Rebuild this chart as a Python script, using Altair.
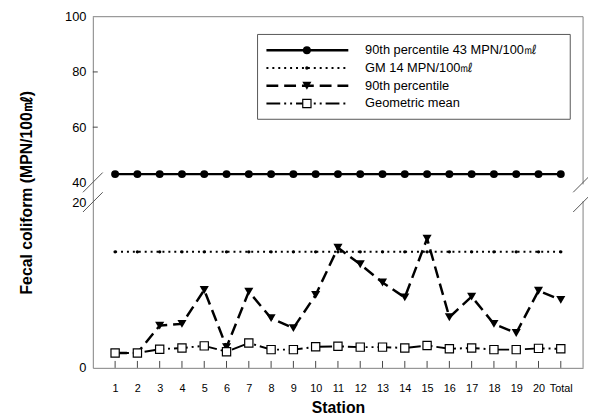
import altair as alt
import pandas as pd

# ---------------- data ----------------
stations = list(range(1, 22))
station_labels = [str(i) for i in range(1, 21)] + ["Total"]
p90_43 = [43] * 21
gm_14 = [14] * 21
p90 = [1.8, 1.8, 5.1, 5.3, 9.4, 2.5, 9.2, 6.0, 4.8, 8.8, 14.5, 12.5, 10.3, 8.5,
       15.6, 6.1, 8.6, 5.3, 4.2, 9.3, 8.2]
gm = [1.8, 1.8, 2.25, 2.4, 2.65, 1.95, 3.0, 2.2, 2.2, 2.55, 2.6, 2.5, 2.5, 2.4,
      2.7, 2.3, 2.4, 2.2, 2.2, 2.35, 2.3]
y_tick_values = [0, 20, 40, 60, 80, 100]
inner_y_ticks = [60, 80]
legend_labels = ["90th percentile 43 MPN/100㎖", "GM 14 MPN/100㎖",
                 "90th percentile", "Geometric mean"]

df = pd.DataFrame({"station": stations, "p90_43": p90_43, "gm_14": gm_14,
                   "p90": p90, "gm": gm})
ytick_df = pd.DataFrame({"v": inner_y_ticks})

W, H = 497, 356
FONT = "Liberation Sans, Arial, sans-serif"
AX = "#808080"

label_arr = "[" + ",".join("'%s'" % s for s in station_labels) + "]"

x_scale = alt.Scale(domain=[0, 22], nice=False, zero=False)
y_scale = alt.Scale(domain=[0, 20, 40, 100], range=[H, H - 168, H - 188, 0],
                    nice=False, zero=False)

x_axis = alt.Axis(values=stations, labelExpr=label_arr + "[datum.value - 1]",
                  tickSize=0, ticks=False, labelPadding=15, labelFontSize=11,
                  labelColor="black", labelFont=FONT, labelOverlap=False,
                  labelFlush=False, domainColor=AX, domainWidth=1, grid=False,
                  title="Station", titleFontSize=16, titleFontWeight="bold",
                  titleFont=FONT, titleColor="black", titleY=40,
                  titleBaseline="middle")
y_axis = alt.Axis(values=y_tick_values, tickSize=0, ticks=False, labelPadding=7,
                  labelFontSize=13, labelColor="black", labelFont=FONT,
                  labelOverlap=False, labelFlush=False, domainColor=AX,
                  domainWidth=1, grid=False,
                  title="Fecal coliform (MPN/100㎖)", titleFontSize=16,
                  titleFontWeight="bold", titleFont=FONT, titleColor="black",
                  titleX=-67, titleY=H / 2, titleAngle=270, titleAlign="center",
                  titleBaseline="middle")

X = alt.X("station:Q", scale=x_scale, axis=x_axis)


def Y(f):
    return alt.Y(f + ":Q", scale=y_scale, axis=y_axis)


base = alt.Chart(df)

one = pd.DataFrame({"a": [0]})


def deco():
    return alt.Chart(one)


layers = []

# frame: top and right borders (right one broken)
layers.append(deco().mark_rule(color=AX, strokeWidth=1).encode(
    x=alt.value(0), x2=alt.value(W), y=alt.value(0)))
layers.append(deco().mark_rule(color=AX, strokeWidth=1).encode(
    x=alt.value(W), y=alt.value(0), y2=alt.value(H - 188 + 2)))
layers.append(deco().mark_rule(color=AX, strokeWidth=1).encode(
    x=alt.value(W), y=alt.value(H - 168 - 1), y2=alt.value(H)))

# inner ticks
layers.append(base.mark_rule(color="#444", strokeWidth=1).encode(
    x=X, y=alt.value(H - 7), y2=alt.value(H)))
layers.append(alt.Chart(ytick_df).mark_rule(color="#444", strokeWidth=1).encode(
    y=alt.Y("v:Q", scale=y_scale, axis=y_axis), x=alt.value(0), x2=alt.value(5)))

# break marks
y40 = H - 188
y20 = H - 168
for cx in (0, W):
    for cy in (y40, y20):
        layers.append(deco().mark_rule(color="#555", strokeWidth=1).encode(
            x=alt.value(cx - 10), x2=alt.value(cx + 10),
            y=alt.value(cy + 10), y2=alt.value(cy - 10)))

# series lines
layers.append(base.mark_line(color="black", strokeWidth=2.5).encode(x=X, y=Y("p90_43")))
layers.append(base.mark_line(color="black", strokeWidth=2, strokeDash=[2, 4]).encode(
    x=X, y=Y("gm_14")))
layers.append(base.mark_line(color="black", strokeWidth=2.5, strokeDash=[12, 6]).encode(
    x=X, y=Y("p90")))
layers.append(base.mark_line(color="black", strokeWidth=2,
                             strokeDash=[14, 4, 2, 4, 2, 4]).encode(x=X, y=Y("gm")))

# markers
layers.append(base.mark_point(shape="circle", filled=True, color="black", size=65,
                              opacity=1).encode(x=X, y=Y("p90_43")))
layers.append(base.mark_point(shape="circle", filled=True, color="black", size=12,
                              opacity=1).encode(x=X, y=Y("gm_14")))
layers.append(base.mark_point(shape="triangle-down", filled=True, color="black",
                              size=85, opacity=1).encode(x=X, y=Y("p90")))
layers.append(base.mark_point(shape="square", filled=True, fill="white",
                              stroke="black", strokeWidth=1.2, size=70,
                              opacity=1).encode(x=X, y=Y("gm")))

# legend
LX0, LX1, LY0, LY1 = 167, 484, 18, 104
rows = [34, 52, 70, 88]
lx0, lx1, lmid, ltext = 176, 259, 217, 276
layers.append(deco().mark_rect(fill="white", stroke="#555", strokeWidth=1).encode(
    x=alt.value(LX0), x2=alt.value(LX1), y=alt.value(LY0), y2=alt.value(LY1)))
dashes = [None, [2, 4], [12, 6], [14, 4, 2, 4, 2, 4]]
widths = [2.5, 2, 2.5, 2]
for r, d, w in zip(rows, dashes, widths):
    kw = {"strokeDash": d} if d else {}
    layers.append(deco().mark_rule(color="black", strokeWidth=w, **kw).encode(
        x=alt.value(lx0), x2=alt.value(lx1), y=alt.value(r)))
layers.append(deco().mark_point(shape="circle", filled=True, color="black", size=65,
                                opacity=1).encode(x=alt.value(lmid), y=alt.value(rows[0])))
layers.append(deco().mark_point(shape="circle", filled=True, color="black", size=12,
                                opacity=1).encode(x=alt.value(lmid), y=alt.value(rows[1])))
layers.append(deco().mark_point(shape="triangle-down", filled=True, color="black",
                                size=85, opacity=1).encode(x=alt.value(lmid),
                                                           y=alt.value(rows[2])))
layers.append(deco().mark_point(shape="square", filled=True, fill="white",
                                stroke="black", strokeWidth=1.2, size=70,
                                opacity=1).encode(x=alt.value(lmid), y=alt.value(rows[3])))
for r, lab in zip(rows, legend_labels):
    layers.append(deco().mark_text(align="left", baseline="middle", font=FONT,
                                   fontSize=13, color="black").encode(
        x=alt.value(ltext), y=alt.value(r), text=alt.value(lab)))

chart = alt.layer(*layers).properties(
    width=W, height=H,
    autosize=alt.AutoSizeParams(type="none"),
    padding={"left": 86, "top": 6, "right": 5, "bottom": 46},
    background="white",
).configure_view(stroke=None)

chart.save("out.html", embed_options={"renderer": "svg", "actions": False})
